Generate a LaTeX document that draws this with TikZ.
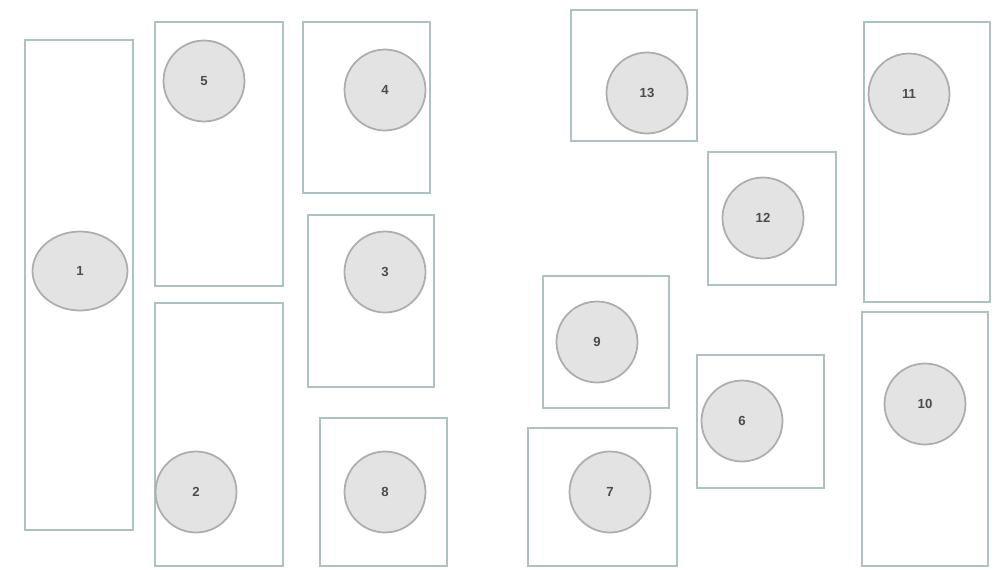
\documentclass[tikz,border=0pt]{standalone}
\usepackage{fontspec}
\setmainfont{Liberation Sans}
\usepackage{xcolor}
\definecolor{boxline}{rgb}{0.68,0.76,0.76}
\definecolor{discfill}{rgb}{0.89,0.89,0.89}
\definecolor{discline}{rgb}{0.68,0.68,0.68}
\usepackage{tikz}
\usetikzlibrary{shapes.geometric}

\begin{document}
\begin{tikzpicture}[x=0.02cm, y=-0.02cm,
  every node/.style={font=\bfseries\fontsize{7.5}{9}\selectfont, text=black!70},
  area/.style={draw=boxline, line width=1.1pt},
  disc/.style={circle, draw=discline, fill=discfill, line width=1pt, minimum size=1.62cm, inner sep=0pt}]
  \useasboundingbox (0,0) rectangle (1008,569);

  % Left group of areas
  \draw[area] (25,40) rectangle (133,530);
  \node[ellipse, draw=discline, fill=discfill, line width=1pt, minimum width=1.9cm, minimum height=1.58cm, inner sep=0pt] (n1) at (80,271) {1};
  \draw[area] (155,22) rectangle (283,286);
  \node[disc] (n5) at (204,81) {5};
  \draw[area] (155,303) rectangle (283,566);
  \node[disc] (n2) at (196,492) {2};

  % Middle column
  \draw[area] (303,22) rectangle (430,193);
  \node[disc] (n4) at (385,90) {4};
  \draw[area] (308,215) rectangle (434,387);
  \node[disc] (n3) at (385,272) {3};
  \draw[area] (320,418) rectangle (447,566);
  \node[disc] (n8) at (385,492) {8};

  % Right group of areas
  \draw[area] (571,10) rectangle (697,141);
  \node[disc] (n13) at (647,93) {13};
  \draw[area] (708,152) rectangle (836,285);
  \node[disc] (n12) at (763,218) {12};
  \draw[area] (543,276) rectangle (669,408);
  \node[disc] (n9) at (597,342) {9};
  \draw[area] (697,355) rectangle (824,488);
  \node[disc] (n6) at (742,421) {6};
  \draw[area] (528,428) rectangle (677,566);
  \node[disc] (n7) at (610,492) {7};

  % Far right column
  \draw[area] (864,22) rectangle (990,302);
  \node[disc] (n11) at (909,94) {11};
  \draw[area] (862,312) rectangle (988,566);
  \node[disc] (n10) at (925,404) {10};
\end{tikzpicture}
\end{document}
